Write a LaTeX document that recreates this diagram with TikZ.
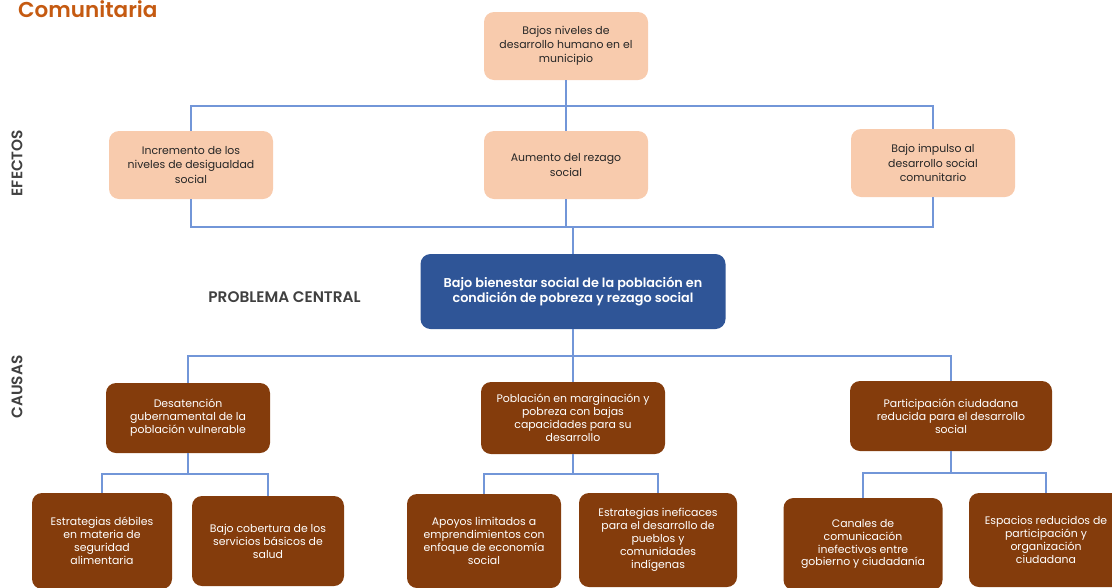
\documentclass[tikz,border=0pt]{standalone}
\usepackage{fontspec}
\setmainfont{Poppins}
\newfontfamily\semib{Poppins}[UprightFont=* SemiBold]
\definecolor{peach}{HTML}{F8CBAD}
\definecolor{brownbox}{HTML}{843C0C}
\definecolor{navy}{HTML}{2F5597}
\definecolor{conncol}{HTML}{7296D8}
\definecolor{titleor}{HTML}{C55A11}
\definecolor{labgray}{HTML}{404040}
\definecolor{txtdark}{HTML}{262626}
\tikzset{
  box/.style={rounded corners=10pt, inner sep=0pt, align=center,
    font=\fontsize{10.9}{14.2}\selectfont},
  effbox/.style={box, fill=peach, text=txtdark},
  causebox/.style={box, fill=brownbox, text=white, font=\fontsize{10.9}{12.9}\selectfont},
  centbox/.style={box, fill=navy, text=white, font=\semib\fontsize{12.8}{16}\selectfont},
  conn/.style={draw=conncol, line width=1.3pt},
  sidelab/.style={text=labgray, font=\semib\fontsize{15.3}{17}\selectfont, inner sep=0pt}
}
\begin{document}
\begin{tikzpicture}[x=1pt,y=-1pt]
\useasboundingbox (0,0) rectangle (1112,587);
% title
\node[anchor=base west, text=titleor, font=\semib\fontsize{21.5}{24}\selectfont, inner sep=0pt] (title) at (18,17) {Comunitaria};
% side labels
\node[sidelab, rotate=90] (efectos) at (17,163) {EFECTOS};
\node[sidelab, rotate=90] (causas) at (17,387) {CAUSAS};
\node[sidelab] (probc) at (284.5,297.5) {PROBLEMA CENTRAL};
% top
\node[effbox, minimum width=164pt, minimum height=68pt] (t) at (566,46) {Bajos niveles de\\desarrollo humano en el\\municipio};
% effects
\node[effbox, minimum width=164pt, minimum height=68pt] (e1) at (191,165) {Incremento de los\\niveles de desigualdad\\social};
\node[effbox, minimum width=164pt, minimum height=68pt] (e2) at (566,165) {Aumento del rezago\\social};
\node[effbox, minimum width=164pt, minimum height=68pt] (e3) at (933,163) {Bajo impulso al\\desarrollo social\\comunitario};
% central
\node[centbox, minimum width=305pt, minimum height=75pt] (c) at (573,291.5) {Bajo bienestar social de la población en\\condición de pobreza y rezago social};
% causes
\node[causebox, minimum width=164pt, minimum height=70pt] (k1) at (188,418) {Desatención\\gubernamental de la\\población vulnerable};
\node[causebox, minimum width=184pt, minimum height=72pt] (k2) at (573,418) {Población en marginación y\\pobreza con bajas\\capacidades para su\\desarrollo};
\node[causebox, minimum width=202pt, minimum height=70pt] (k3) at (951,416) {Participación ciudadana\\reducida para el desarrollo\\social};
% leaves
\node[causebox, minimum width=140pt, minimum height=96pt] (l1) at (102,541) {Estrategias débiles\\en materia de\\seguridad\\alimentaria};
\node[causebox, minimum width=152pt, minimum height=90pt] (l2) at (268,541) {Bajo cobertura de los\\servicios básicos de\\salud};
\node[causebox, minimum width=154pt, minimum height=94pt] (m1) at (484,541) {Apoyos limitados a\\emprendimientos con\\enfoque de economía\\social};
\node[causebox, minimum width=158pt, minimum height=94pt] (m2) at (658,540) {Estrategias ineficaces\\para el desarrollo de\\pueblos y\\comunidades\\indígenas};
\node[causebox, minimum width=159pt, minimum height=92pt] (r1) at (863,544) {Canales de\\comunicación\\inefectivos entre\\gobierno y ciudadanía};
\node[causebox, minimum width=154pt, minimum height=94pt] (r2) at (1046,540) {Espacios reducidos de\\participación y\\organización\\ciudadana};
% junctions
\coordinate (j1) at (566,106);
\coordinate (j2) at (573,227);
\coordinate (j3) at (573,356);
\coordinate (j4) at (188,474);
\coordinate (j5) at (573,474);
\coordinate (j6) at (951,473);
% connectors
\draw[conn] (t.south) -- (j1);
\draw[conn] (j1) -| (e1.north);
\draw[conn] (j1) -- (e2.north);
\draw[conn] (j1) -| (e3.north);
\draw[conn] (e1.south) |- (j2);
\draw[conn] (e2.south) |- (j2);
\draw[conn] (e3.south) |- (j2);
\draw[conn] (j2) -- (c.north);
\draw[conn] (c.south) -- (j3);
\draw[conn] (j3) -| (k1.north);
\draw[conn] (j3) -- (k2.north);
\draw[conn] (j3) -| (k3.north);
\draw[conn] (k1.south) -- (j4);
\draw[conn] (j4) -| (l1.north);
\draw[conn] (j4) -| (l2.north);
\draw[conn] (k2.south) -- (j5);
\draw[conn] (j5) -| (m1.north);
\draw[conn] (j5) -| (m2.north);
\draw[conn] (k3.south) -- (j6);
\draw[conn] (j6) -| (r1.north);
\draw[conn] (j6) -| (r2.north);
\end{tikzpicture}
\end{document}
